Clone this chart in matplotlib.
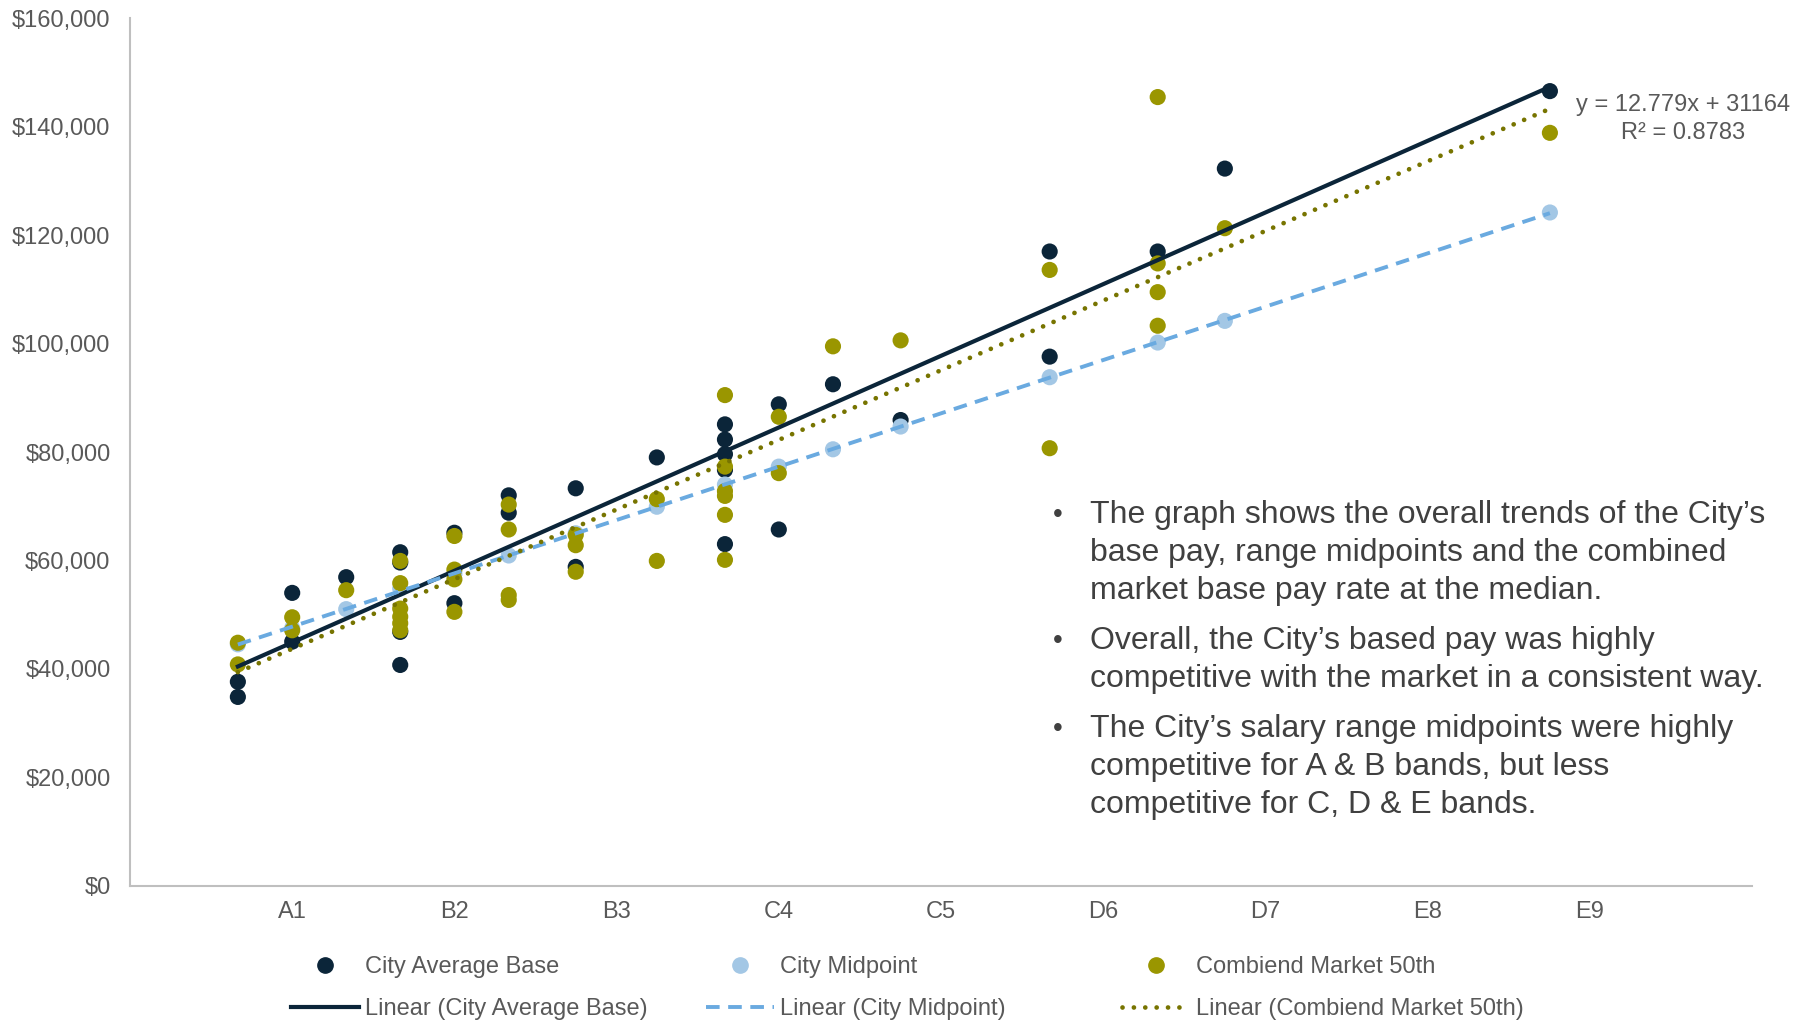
import matplotlib
matplotlib.use('Agg')
import matplotlib.pyplot as plt
from matplotlib.lines import Line2D
import numpy as np

plt.rcParams['font.family'] = ['Liberation Sans Narrow', 'Liberation Sans', 'DejaVu Sans']

# job points (x) and pay (y, thousands of $)
avg_x = [665, 665, 1000, 1000, 1333, 1666, 1666, 1666, 1666, 2000, 2000, 2335, 2335,
         2748, 2748, 3248, 3668, 3668, 3668, 3668, 3668, 4000, 4000, 4334, 4751,
         5670, 5670, 6336, 6750, 8754]
avg_y = [37.6, 34.8, 54.0, 45.0, 56.9, 61.5, 59.6, 46.8, 40.7, 65.1, 52.1, 72.0, 68.8,
         73.3, 58.8, 79.0, 85.1, 82.3, 79.6, 76.7, 63.0, 88.8, 65.7, 92.5, 85.9,
         117.0, 97.6, 117.0, 132.3, 146.6]

mid_x = [665, 1000, 1333, 1666, 2000, 2335, 2748, 3248, 3668, 4000, 4334, 4751,
         5670, 6336, 6750, 8754]
mid_y = [44.5, 47.5, 51.0, 54.8, 57.5, 60.9, 65.0, 69.9, 74.0, 77.3, 80.5, 84.7,
         93.8, 100.2, 104.2, 124.2]

mkt_x = [665, 665, 1000, 1000, 1333, 1666, 1666, 1666, 1666, 1666, 1666,
         2000, 2000, 2000, 2000, 2335, 2335, 2335, 2335, 2748, 2748, 2748,
         3248, 3248, 3668, 3668, 3668, 3668, 3668, 3668, 4000, 4000, 4334, 4751,
         5670, 5670, 6336, 6336, 6336, 6336, 6750, 8754]
mkt_y = [44.8, 40.8, 49.5, 47.1, 54.5, 59.9, 55.8, 51.1, 49.6, 48.4, 47.1,
         64.5, 58.3, 56.5, 50.5, 70.3, 65.7, 53.6, 52.7, 64.7, 62.8, 57.9,
         71.3, 59.9, 90.5, 77.3, 72.8, 71.9, 68.4, 60.1, 86.5, 76.1, 99.5, 100.6,
         113.6, 80.7, 145.5, 114.8, 109.5, 103.3, 121.3, 138.9]

grade_pos = [1000, 2000, 3000, 4000, 5000, 6000, 7000, 8000, 9000]
grade_labels = ['A1', 'B2', 'B3', 'C4', 'C5', 'D6', 'D7', 'E8', 'E9']

series_names = ['City Average Base', 'City Midpoint', 'Combiend Market 50th']

eq_text = ['y = 12.779x + 31164', 'R² = 0.8783']

bullets = [
    ["The graph shows the overall trends of the City\u2019s",
     "base pay, range midpoints and the combined",
     "market base pay rate at the median."],
    ["Overall, the City\u2019s based pay was highly",
     "competitive with the market in a consistent way."],
    ["The City\u2019s salary range midpoints were highly",
     "competitive for A & B bands, but less",
     "competitive for C, D & E bands."],
]

dark = '#0B2539'
light = '#A3C7E5'
olive = '#9A9600'
dash_blue = '#6AAAE0'
dot_olive = '#777400'
txt = '#595959'

W, H = 1810, 1021
fig = plt.figure(figsize=(W / 100, H / 100), dpi=100)
ax = fig.add_axes([130 / W, 1 - 885.5 / H, (1752 - 130) / W, (885.5 - 18.5) / H])

xs = [np.array(avg_x), np.array(mid_x), np.array(mkt_x)]
ys = [np.array(avg_y) * 1000, np.array(mid_y) * 1000, np.array(mkt_y) * 1000]
mcols = [dark, light, olive]
for x, y, c in zip(xs, ys, mcols):
    ax.scatter(x, y, s=135, color=c, edgecolors='none', zorder=2)

lstyles = ['-', (0, (3.5, 2.2)), (0, (0.01, 2.4))]
lcols = [dark, dash_blue, dot_olive]
lws = [3.0, 2.8, 3.4]
for x, y, c, ls, lw in zip(xs, ys, lcols, lstyles, lws):
    k, b = np.polyfit(x, y, 1)
    xx = np.array([x.min(), x.max()])
    ln, = ax.plot(xx, k * xx + b, color=c, lw=lw, ls=ls, zorder=3)
    if ls != '-' and ls[1][0] < 0.1:
        ln.set_dash_capstyle('round')

ax.set_xlim(0, 10000)
ax.set_ylim(0, 160000)
ax.set_xticks(grade_pos)
ax.set_xticklabels(grade_labels)
ax.set_yticks(np.arange(0, 160001, 20000))
ax.yaxis.set_major_formatter(matplotlib.ticker.FuncFormatter(lambda v, p: '${:,.0f}'.format(v)))
ax.tick_params(length=0, labelsize=17, labelcolor=txt)
ax.tick_params(axis='x', pad=11)
ax.tick_params(axis='y', pad=14)
for s in ['top', 'right']:
    ax.spines[s].set_visible(False)
for s in ['left', 'bottom']:
    ax.spines[s].set_color('#BFBFBF')
    ax.spines[s].set_linewidth(1.5)

# trendline equation
fig.text(1683 / W, 1 - 105 / H, eq_text[0], ha='center', va='center', fontsize=17, color=txt)
fig.text(1683 / W, 1 - 133 / H, eq_text[1], ha='center', va='center', fontsize=17, color=txt)

# bullet notes
yy = 515
for para in bullets:
    for i, line in enumerate(para):
        if i == 0:
            fig.text(1058 / W, 1 - yy / H, '\u2022', ha='center', va='center', fontsize=20, color='#404040')
        fig.text(1090 / W, 1 - yy / H, line, ha='left', va='center', fontsize=23, color='#404040')
        yy += 38
    yy += 12

# legend: one column per series, evenly spaced like the original
col_x = [291, 706, 1122]
for name, mc, lc, ls, lw, cx in zip(series_names, mcols, lcols, lstyles, lws, col_x):
    hm = Line2D([], [], ls='none', marker='o', ms=11, color=mc, label=name)
    hl = Line2D([], [], ls=ls, lw=lw, color=lc, label='Linear (' + name + ')')
    if ls != '-' and ls[1][0] < 0.1:
        hl.set_dash_capstyle('round')
    fig.legend(handles=[hm, hl], ncol=1, loc='center left', bbox_to_anchor=(cx / W, 1 - 988 / H),
               frameon=False, fontsize=17, labelcolor=txt, handlelength=2.9, handletextpad=0.25,
               borderaxespad=0, borderpad=0, labelspacing=0.85)

fig.savefig('out.png', dpi=100)
